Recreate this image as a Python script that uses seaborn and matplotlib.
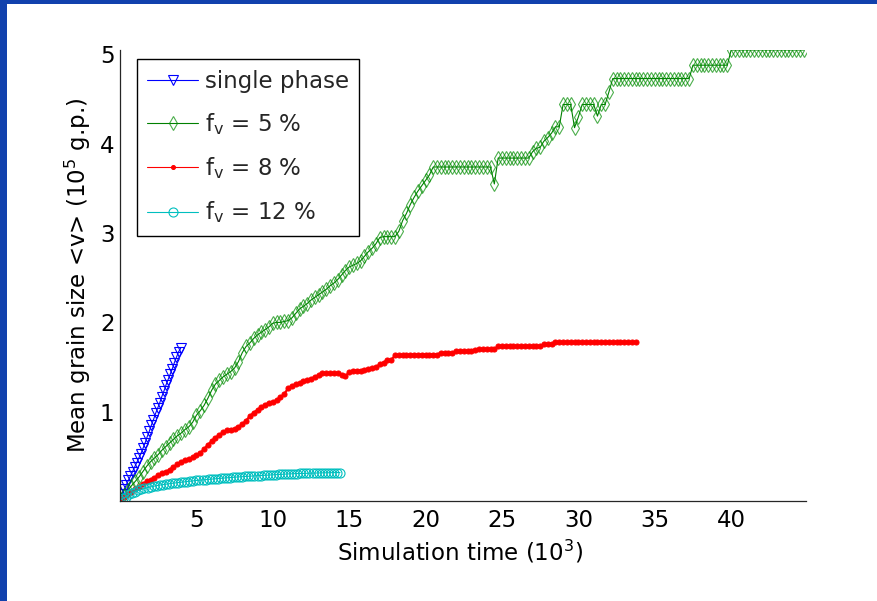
import numpy as np
import matplotlib
matplotlib.use("Agg")
import matplotlib.pyplot as plt
import seaborn as sns
from matplotlib.patches import Rectangle

# ---------------- data ----------------
labels = ["single phase", "f$_v$ = 5 %", "f$_v$ = 8 %", "f$_v$ = 12 %"]
xticks = [5, 10, 15, 20, 25, 30, 35, 40]
yticks = [1, 2, 3, 4, 5]

# simulation time (10^3) sample grids
t_single = np.linspace(0, 3.97, 30)
t_fv5 = np.arange(180) * 0.25
t_fv8 = np.arange(136) * 0.25
t_fv12 = np.arange(73) * 0.2

v_single = [0.03, 0.08, 0.13, 0.18, 0.23, 0.28, 0.33, 0.38, 0.43, 0.48,
            0.53, 0.59, 0.65, 0.72, 0.78, 0.85, 0.91, 0.98, 1.04, 1.10,
            1.17, 1.23, 1.30, 1.36, 1.42, 1.48, 1.55, 1.61, 1.67, 1.71]

v_fv5 = [0.03, 0.07, 0.12, 0.17, 0.22, 0.27, 0.33, 0.39, 0.44, 0.48,
         0.52, 0.57, 0.61, 0.65, 0.69, 0.73, 0.76, 0.80, 0.83, 0.88,
         0.96, 1.01, 1.07, 1.15, 1.24, 1.31, 1.35, 1.39, 1.42, 1.45,
         1.49, 1.56, 1.66, 1.73, 1.77, 1.82, 1.86, 1.89, 1.92, 1.95,
         1.99, 2.00, 2.00, 2.01, 2.02, 2.05, 2.10, 2.15, 2.18, 2.21,
         2.25, 2.28, 2.31, 2.34, 2.37, 2.41, 2.44, 2.48, 2.53, 2.58,
         2.62, 2.64, 2.66, 2.69, 2.74, 2.79, 2.83, 2.88, 2.95, 2.96,
         2.96, 2.96, 2.96, 3.02, 3.14, 3.22, 3.32, 3.40, 3.47, 3.53,
         3.59, 3.65, 3.74,
         3.74, 3.74, 3.74, 3.74, 3.74, 3.74, 3.74, 3.74, 3.74, 3.74,
         3.74, 3.74, 3.74, 3.74, 3.74,
         3.55,
         3.84, 3.84, 3.84, 3.84, 3.84, 3.84, 3.84, 3.84, 3.84,
         3.91, 3.95, 3.96, 4.03, 4.07, 4.12, 4.19, 4.19,
         4.44, 4.44, 4.44, 4.18, 4.30, 4.44, 4.44, 4.44, 4.44, 4.31,
         4.44, 4.44,
         4.58,
         4.73, 4.73, 4.73, 4.73, 4.73, 4.73, 4.73, 4.73, 4.73, 4.73,
         4.73, 4.73, 4.73, 4.73, 4.73, 4.73, 4.73, 4.73, 4.73, 4.73,
         4.73,
         4.88, 4.88, 4.88, 4.88, 4.88, 4.88, 4.88, 4.88, 4.88, 4.88,
         5.05, 5.05, 5.05, 5.05, 5.05, 5.05, 5.05, 5.05, 5.05, 5.05,
         5.05, 5.05, 5.05, 5.05, 5.05, 5.05, 5.05, 5.05, 5.05, 5.05]

v_fv8 = [0.03, 0.05, 0.08, 0.10, 0.13, 0.16, 0.19, 0.22, 0.24, 0.26,
         0.29, 0.31, 0.33, 0.35, 0.38, 0.41, 0.44, 0.46, 0.47, 0.49,
         0.51, 0.54, 0.58, 0.63, 0.67, 0.71, 0.74, 0.77, 0.79, 0.80,
         0.81, 0.83, 0.86, 0.90, 0.95, 0.99, 1.02, 1.05, 1.08, 1.10,
         1.11, 1.13, 1.16, 1.20, 1.26, 1.29, 1.31, 1.32, 1.34, 1.35,
         1.37, 1.39, 1.41, 1.43, 1.43, 1.43, 1.43, 1.43, 1.41, 1.40,
         1.44, 1.46, 1.46, 1.46, 1.47, 1.48, 1.49, 1.50, 1.53, 1.55,
         1.58, 1.58, 1.63, 1.63, 1.63, 1.63, 1.64, 1.64, 1.64, 1.64,
         1.64, 1.64, 1.64, 1.64, 1.66, 1.66, 1.66, 1.66, 1.68, 1.68,
         1.68, 1.68, 1.68, 1.69, 1.70, 1.70, 1.70, 1.70, 1.70, 1.73,
         1.73, 1.73, 1.73, 1.73, 1.73, 1.73, 1.73, 1.73, 1.73, 1.73,
         1.73, 1.76, 1.76, 1.76, 1.78, 1.78, 1.78, 1.78, 1.78, 1.78,
         1.78, 1.78, 1.78, 1.78, 1.78, 1.78, 1.78, 1.78, 1.78, 1.78,
         1.78, 1.78, 1.78, 1.78, 1.78, 1.78]

v_fv12 = [0.010, 0.030, 0.050, 0.075, 0.090, 0.105, 0.120, 0.130, 0.140, 0.150,
          0.158, 0.165, 0.172, 0.178, 0.183, 0.188, 0.193, 0.198, 0.202, 0.206,
          0.210, 0.214, 0.218, 0.222, 0.226, 0.230, 0.233, 0.236, 0.239, 0.242,
          0.245, 0.248, 0.251, 0.254, 0.257, 0.260, 0.262, 0.265, 0.268, 0.270,
          0.272, 0.275, 0.277, 0.279, 0.281, 0.283, 0.285, 0.287, 0.289, 0.291,
          0.293, 0.295, 0.297, 0.299, 0.301, 0.303, 0.304, 0.306, 0.307, 0.308,
          0.309, 0.310, 0.311, 0.312, 0.313, 0.314, 0.315, 0.316, 0.316, 0.317,
          0.318, 0.318, 0.319]

# ---------------- style ----------------
sns.set_theme(style="white")
plt.rcParams['font.family'] = ['DejaVu Sans']
plt.rcParams['mathtext.default'] = 'regular'
FS = 16.5

fig = plt.figure(figsize=(8.77, 6.01), dpi=100)
fig.patch.set_facecolor('white')
ax = fig.add_axes([120 / 877, 1 - 501 / 601, 686 / 877, 451 / 601])

# (time, values, label, line colour, edge colour, marker, size, face, line width)
series = [
    (t_single, v_single, labels[0], '#0000FF', '#0000FF', 'v', 7.0, 'none', 0.8),
    (t_fv5, v_fv5, labels[1], '#008000', (0.0, 0.55, 0.0, 0.7), 'd', 7.5, 'none', 0.8),
    (t_fv8, v_fv8, labels[2], '#FF0000', '#FF0000', 'o', 3.6, '#FF0000', 1.6),
    (t_fv12, v_fv12, labels[3], '#00BFBF', '#00BFBF', 'o', 6.5, 'none', 0.8),
]
for t, v, lab, col, mec, mk, ms, mfc, lw in series:
    sns.lineplot(x=np.asarray(t), y=np.asarray(v), ax=ax, color=col,
                 linewidth=lw, marker=mk, markersize=ms,
                 markerfacecolor=mfc, markeredgecolor=mec,
                 markeredgewidth=0.8, label=lab, estimator=None, sort=False)

ax.set_xlim(0, 44.9)
ax.set_ylim(0, 5.05)
ax.set_xticks(xticks)
ax.set_yticks(yticks)
ax.set_xticklabels([str(x) for x in xticks])
ax.set_yticklabels([str(y) for y in yticks])

for s in ['top', 'right']:
    ax.spines[s].set_visible(False)
for s in ['left', 'bottom']:
    ax.spines[s].set_color('#262626')
    ax.spines[s].set_linewidth(0.9)
ax.tick_params(axis='both', direction='in', length=5, width=0.8,
               color='#262626', labelsize=FS, labelcolor='black')
ax.tick_params(axis='x', pad=6)
ax.tick_params(axis='y', pad=4)
ax.set_facecolor('white')
ax.grid(False)

ax.set_xlabel("Simulation time (10$^3$)", fontsize=FS, color='black')
ax.set_ylabel("Mean grain size <v> (10$^5$ g.p.)", fontsize=FS, color='black')
ax.xaxis.set_label_coords(0.496, -0.083)
ax.yaxis.set_label_coords(-0.039, 0.5)

leg = ax.legend(loc='upper left', bbox_to_anchor=(0.025, 0.979),
                borderaxespad=0, frameon=True, fancybox=False,
                edgecolor='black', framealpha=1, fontsize=FS,
                handlelength=2.2, handletextpad=0.3, borderpad=0.45,
                labelspacing=0.8)
leg.get_frame().set_linewidth(1.0)
# thin legend sample lines, small dot for the red entry
for hl in leg.get_lines():
    hl.set_linewidth(0.8)
leg.get_lines()[2].set_markersize(2.8)

# blue slide border (top and left)
fig.patches.append(Rectangle((0, 1 - 4 / 601), 1, 4 / 601, transform=fig.transFigure,
                             facecolor='#1141AD', edgecolor='none', zorder=10))
fig.patches.append(Rectangle((0, 0), 7 / 877, 1, transform=fig.transFigure,
                             facecolor='#1141AD', edgecolor='none', zorder=10))

fig.savefig("out.png", dpi=100)
